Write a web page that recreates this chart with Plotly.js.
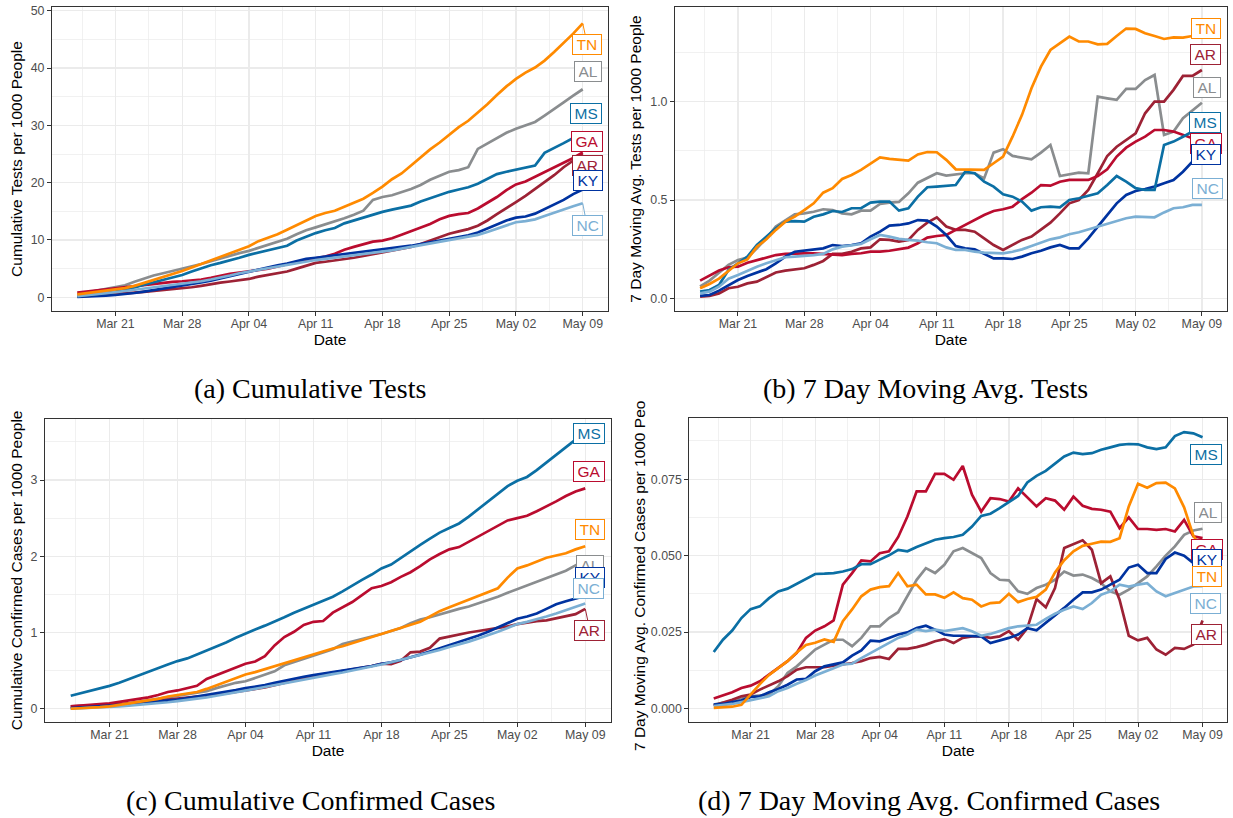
<!DOCTYPE html>
<html><head><meta charset="utf-8">
<script src="https://cdn.plot.ly/plotly-3.0.1.min.js"></script>
<style>html,body{margin:0;padding:0;background:#fff}#chart{width:1233px;height:818px}</style>
</head><body><div id="chart"></div>
<script>
// ---------- categories ----------
const DATES = [
'2020-03-17','2020-03-18','2020-03-19','2020-03-20','2020-03-21','2020-03-22','2020-03-23','2020-03-24','2020-03-25','2020-03-26','2020-03-27','2020-03-28','2020-03-29','2020-03-30','2020-03-31',
'2020-04-01','2020-04-02','2020-04-03','2020-04-04','2020-04-05','2020-04-06','2020-04-07','2020-04-08','2020-04-09','2020-04-10',
'2020-04-11','2020-04-12','2020-04-13','2020-04-14','2020-04-15','2020-04-16','2020-04-17','2020-04-18','2020-04-19','2020-04-20',
'2020-04-21','2020-04-22','2020-04-23','2020-04-24','2020-04-25','2020-04-26','2020-04-27','2020-04-28','2020-04-29','2020-04-30',
'2020-05-01','2020-05-02','2020-05-03','2020-05-04','2020-05-05','2020-05-06','2020-05-07','2020-05-08','2020-05-09'];
const STATES = ['AL','AR','GA','KY','MS','NC','TN'];

// ---------- (a) cumulative tests per 1000 ----------
const TESTS_CUM_AL = [0.5,0.8,1.1,1.4,1.7,2.1,2.7,3.3,3.8,4.2,4.6,4.9,5.3,5.8,6.3, 6.8,7.3,7.7,8.1,8.6,9.1,9.6,10.2,11.0,11.7, 12.2,12.7,13.2,13.8,14.4,15.1,17.0,17.5,17.8,18.3, 18.9,19.6,20.5,21.2,21.9,22.2,22.7,25.9,26.8,27.7, 28.7,29.4,30.0,30.6,31.7,32.8,34.0,35.2,36.3];
const TESTS_CUM_AR = [0.1,0.2,0.3,0.45,0.6,0.7,0.8,0.95,1.1,1.25,1.4,1.55,1.75,2.0,2.3, 2.55,2.75,3.0,3.2,3.6,3.9,4.2,4.5,5.0,5.5, 6.0,6.2,6.4,6.7,6.9,7.2,7.5,7.8,8.1,8.4, 8.8,9.3,9.9,10.5,11.1,11.5,11.9,12.5,13.4,14.5, 15.5,16.6,17.7,18.9,20.0,21.3,22.7,23.9,25.0];
const TESTS_CUM_GA = [0.8,1.0,1.2,1.35,1.5,1.7,1.9,2.1,2.3,2.5,2.7,2.8,2.9,3.1,3.4, 3.8,4.1,4.3,4.5,4.7,5.0,5.4,5.8,6.2,6.5, 6.8,7.1,7.6,8.3,8.8,9.3,9.7,9.9,10.3,10.9, 11.5,12.2,12.8,13.6,14.2,14.5,14.7,15.5,16.5,17.5, 18.7,19.7,20.2,21.0,21.8,22.6,23.4,24.3,25.3];
const TESTS_CUM_KY = [0.05,0.1,0.2,0.3,0.4,0.55,0.75,1.0,1.25,1.5,1.75,2.0,2.3,2.6,2.9, 3.3,3.7,4.1,4.5,4.9,5.3,5.6,5.9,6.3,6.7, 6.9,7.1,7.3,7.5,7.7,7.9,8.1,8.4,8.6,8.7, 9.0,9.3,9.6,9.9,10.2,10.4,10.8,11.3,12.0,12.7, 13.4,13.9,14.1,14.6,15.4,16.2,17.0,18.0,18.8];
const TESTS_CUM_MS = [0.2,0.35,0.55,0.75,1.0,1.3,1.7,2.2,2.6,3.0,3.4,3.9,4.5,5.1,5.6, 6.0,6.4,6.9,7.4,7.8,8.2,8.5,9.0,9.9,10.6, 11.2,11.7,12.1,12.9,13.4,13.9,14.5,14.9,15.3,15.6, 16.0,16.7,17.3,17.9,18.4,18.8,19.2,19.8,20.6,21.5, 21.9,22.3,22.7,23.0,25.2,26.0,26.9,27.8,28.4];
const TESTS_CUM_NC = [0.2,0.35,0.5,0.7,0.9,1.1,1.3,1.5,1.7,1.9,2.1,2.3,2.5,2.8,3.1, 3.4,3.8,4.2,4.5,4.8,5.0,5.3,5.6,5.9,6.2, 6.5,6.7,6.9,7.1,7.3,7.5,7.7,7.9,8.2,8.5, 8.8,9.1,9.4,9.7,10.0,10.2,10.5,10.9,11.4,12.0, 12.6,13.1,13.3,13.6,14.2,14.8,15.4,15.9,16.4];
const TESTS_CUM_TN = [0.5,0.7,0.9,1.1,1.35,1.6,2.0,2.5,3.0,3.5,4.0,4.6,5.2,5.8,6.4, 7.0,7.6,8.2,8.9,9.8,10.4,11.0,11.8,12.6,13.4, 14.2,14.7,15.1,15.8,16.5,17.2,18.2,19.3,20.6,21.6, 23.0,24.4,25.8,27.0,28.4,29.7,30.8,32.2,33.7,35.3, 36.8,38.1,39.2,40.1,41.3,42.8,44.4,46.0,47.8];

// ---------- (b) 7 day moving avg. tests per 1000 ----------
const TESTS_MA_AL = [0.06,0.09,0.13,0.17,0.195,0.207,0.254,0.305,0.365,0.398,0.427,0.432,0.44,0.453,0.449, 0.432,0.427,0.446,0.446,0.48,0.487,0.49,0.534,0.588,0.61, 0.636,0.624,0.631,0.636,0.636,0.61,0.741,0.758,0.724,0.717, 0.707,0.741,0.78,0.622,0.631,0.639,0.636,1.026,1.017,1.009, 1.065,1.065,1.11,1.136,0.831,0.848,0.916,0.958,0.995];
const TESTS_MA_AR = [0.008,0.012,0.025,0.051,0.059,0.076,0.085,0.11,0.131,0.141,0.148,0.153,0.17,0.19,0.226, 0.226,0.237,0.254,0.259,0.30,0.297,0.288,0.297,0.348,0.385, 0.412,0.365,0.348,0.348,0.339,0.305,0.271,0.246,0.271,0.297, 0.314,0.348,0.385,0.432,0.483,0.50,0.551,0.636,0.724,0.771, 0.805,0.839,0.941,1.0,1.0,1.06,1.131,1.131,1.161];
const TESTS_MA_GA = [0.09,0.114,0.141,0.158,0.161,0.181,0.195,0.209,0.22,0.226,0.229,0.229,0.229,0.226,0.22, 0.22,0.226,0.229,0.237,0.237,0.242,0.249,0.258,0.28,0.309, 0.317,0.322,0.348,0.373,0.398,0.424,0.444,0.453,0.466,0.504, 0.537,0.576,0.573,0.593,0.602,0.602,0.602,0.622,0.656,0.721, 0.766,0.797,0.822,0.856,0.856,0.848,0.831,0.814,0.805];
const TESTS_MA_KY = [0.012,0.017,0.039,0.068,0.093,0.114,0.131,0.148,0.178,0.212,0.237,0.242,0.246,0.254,0.271, 0.266,0.271,0.28,0.314,0.339,0.37,0.373,0.381,0.398,0.395, 0.365,0.322,0.266,0.254,0.249,0.226,0.203,0.203,0.20,0.212, 0.229,0.242,0.259,0.271,0.254,0.254,0.305,0.365,0.424,0.483, 0.526,0.546,0.556,0.568,0.585,0.602,0.644,0.695,0.721];
const TESTS_MA_MS = [0.034,0.042,0.068,0.144,0.178,0.212,0.271,0.314,0.356,0.39,0.393,0.39,0.415,0.427,0.444, 0.439,0.458,0.458,0.487,0.492,0.492,0.446,0.458,0.517,0.565, 0.568,0.573,0.576,0.644,0.636,0.593,0.568,0.529,0.517,0.492, 0.446,0.463,0.466,0.463,0.50,0.509,0.52,0.534,0.576,0.622, 0.593,0.56,0.551,0.551,0.78,0.797,0.822,0.848,0.865];
const TESTS_MA_NC = [0.025,0.034,0.059,0.10,0.119,0.141,0.161,0.178,0.195,0.209,0.212,0.215,0.22,0.226,0.249, 0.263,0.271,0.276,0.30,0.322,0.314,0.302,0.297,0.293,0.285, 0.28,0.259,0.246,0.246,0.237,0.232,0.229,0.229,0.237,0.249, 0.266,0.283,0.30,0.31,0.326,0.336,0.351,0.365,0.381,0.395, 0.407,0.415,0.412,0.412,0.437,0.458,0.463,0.475,0.475];
const TESTS_MA_TN = [0.051,0.073,0.10,0.14,0.178,0.198,0.263,0.30,0.348,0.39,0.415,0.449,0.483,0.537,0.56, 0.607,0.627,0.653,0.687,0.717,0.709,0.704,0.70,0.732,0.744, 0.743,0.704,0.656,0.656,0.653,0.653,0.687,0.721,0.822,0.933, 1.068,1.178,1.263,1.297,1.331,1.306,1.306,1.292,1.294,1.334, 1.372,1.37,1.348,1.334,1.319,1.327,1.326,1.334,1.339];

// ---------- (c) cumulative confirmed cases per 1000 ----------
const CASES_CUM_AL = [0.01,0.015,0.02,0.03,0.04,0.05,0.07,0.09,0.11,0.13,0.15,0.17,0.19,0.21,0.23, 0.27,0.31,0.34,0.36,0.40,0.44,0.49,0.57,0.61,0.65, 0.69,0.74,0.78,0.85,0.88,0.91,0.94,0.98,1.02,1.06, 1.12,1.17,1.20,1.24,1.28,1.31,1.34,1.38,1.42,1.47, 1.52,1.57,1.61,1.66,1.71,1.76,1.81,1.88,1.95];
const CASES_CUM_AR = [0.03,0.035,0.04,0.045,0.05,0.06,0.07,0.08,0.09,0.10,0.12,0.135,0.15,0.16,0.17, 0.18,0.20,0.22,0.24,0.26,0.28,0.31,0.34,0.37,0.40, 0.43,0.45,0.47,0.49,0.51,0.53,0.56,0.59,0.585,0.63, 0.74,0.75,0.80,0.92,0.95,0.97,1.00,1.02,1.04,1.06, 1.08,1.11,1.13,1.15,1.16,1.19,1.21,1.24,1.31];
const CASES_CUM_GA = [0.03,0.04,0.05,0.06,0.07,0.09,0.11,0.13,0.15,0.18,0.22,0.24,0.27,0.30,0.39, 0.44,0.50,0.55,0.59,0.62,0.69,0.83,0.94,1.01,1.10, 1.14,1.15,1.26,1.33,1.40,1.49,1.58,1.61,1.66,1.73, 1.79,1.87,1.96,2.03,2.09,2.12,2.19,2.25,2.33,2.39, 2.47,2.50,2.53,2.59,2.65,2.72,2.79,2.85,2.89];
const CASES_CUM_KY = [0.01,0.015,0.02,0.03,0.04,0.05,0.06,0.07,0.08,0.09,0.105,0.12,0.14,0.16,0.18, 0.20,0.22,0.245,0.27,0.29,0.31,0.34,0.37,0.40,0.42, 0.44,0.46,0.48,0.50,0.52,0.54,0.56,0.59,0.61,0.64, 0.67,0.71,0.75,0.79,0.84,0.88,0.92,0.96,1.01,1.07, 1.12,1.18,1.21,1.25,1.31,1.37,1.41,1.45,1.48];
const CASES_CUM_MS = [0.17,0.20,0.24,0.27,0.30,0.34,0.39,0.44,0.49,0.53,0.58,0.625,0.66,0.71,0.76, 0.82,0.87,0.93,0.99,1.04,1.09,1.14,1.20,1.26,1.31, 1.37,1.41,1.47,1.54,1.62,1.69,1.76,1.84,1.89,1.98, 2.07,2.15,2.23,2.31,2.37,2.43,2.52,2.62,2.72,2.81, 2.92,2.99,3.04,3.13,3.23,3.34,3.44,3.53,3.62];
const CASES_CUM_NC = [0.00,0.005,0.01,0.015,0.02,0.03,0.04,0.05,0.06,0.07,0.085,0.10,0.115,0.13,0.15, 0.17,0.19,0.215,0.24,0.26,0.285,0.31,0.335,0.36,0.385, 0.41,0.43,0.455,0.475,0.50,0.52,0.55,0.58,0.61,0.64, 0.67,0.70,0.73,0.77,0.81,0.84,0.88,0.92,0.96,1.01, 1.06,1.11,1.14,1.17,1.21,1.25,1.29,1.34,1.38];
const CASES_CUM_TN = [0.00,0.005,0.01,0.02,0.03,0.05,0.07,0.09,0.11,0.13,0.16,0.18,0.20,0.22,0.26, 0.31,0.36,0.41,0.45,0.48,0.52,0.56,0.60,0.64,0.68, 0.72,0.76,0.79,0.82,0.86,0.90,0.94,0.98,1.01,1.05, 1.09,1.14,1.21,1.28,1.33,1.38,1.42,1.47,1.52,1.58, 1.72,1.84,1.88,1.93,1.98,2.01,2.04,2.09,2.13];

// ---------- (d) 7 day moving avg. confirmed cases per 1000 ----------
const CASES_MA_AL = [0.0013,0.0019,0.0024,0.0032,0.004,0.0042,0.0046,0.0073,0.0116,0.0138,0.0165,0.0193,0.0209,0.0225,0.0225, 0.0204,0.0231,0.0269,0.0269,0.0296,0.0315,0.0367,0.0421,0.0459,0.0443, 0.047,0.0514,0.0525,0.0508,0.0492,0.0443,0.0421,0.0419,0.0383,0.0375, 0.0394,0.0405,0.0421,0.0448,0.0435,0.0438,0.0427,0.041,0.0383,0.0372, 0.0389,0.041,0.0432,0.0465,0.05,0.053,0.0568,0.0582,0.0588];
const CASES_MA_AR = [0.001,0.0019,0.0029,0.004,0.0046,0.0062,0.0075,0.0089,0.0106,0.0127,0.0135,0.0135,0.0135,0.014,0.0144, 0.0149,0.0155,0.0165,0.0169,0.0162,0.0195,0.0195,0.0201,0.0209,0.022, 0.0227,0.0214,0.0231,0.0236,0.0236,0.0231,0.0236,0.0253,0.0225,0.0263, 0.0358,0.0331,0.0394,0.0525,0.0538,0.055,0.0519,0.041,0.0432,0.0356, 0.0238,0.0223,0.0231,0.0193,0.0176,0.0198,0.0195,0.0209,0.0288];
const CASES_MA_GA = [0.0033,0.0042,0.0053,0.0067,0.0075,0.0089,0.0111,0.0133,0.0155,0.0182,0.0231,0.0255,0.0269,0.0288,0.0405, 0.0443,0.0484,0.0481,0.0508,0.0514,0.0561,0.0628,0.071,0.071,0.0767, 0.0767,0.0748,0.0793,0.0699,0.0644,0.0688,0.0685,0.0677,0.072,0.0691, 0.0661,0.0688,0.068,0.065,0.0693,0.0663,0.0653,0.065,0.0644,0.059, 0.0625,0.0587,0.0587,0.0584,0.0587,0.0579,0.0617,0.0563,0.0557];
const CASES_MA_KY = [0.0013,0.0015,0.0021,0.0026,0.0038,0.004,0.0053,0.0064,0.0078,0.0095,0.0097,0.0122,0.0138,0.0144,0.0151, 0.0173,0.019,0.0222,0.022,0.0231,0.0242,0.0249,0.0263,0.0271,0.0258, 0.0242,0.0238,0.0238,0.0238,0.0236,0.0214,0.0222,0.0231,0.0242,0.0263, 0.0256,0.028,0.0304,0.0329,0.0356,0.038,0.038,0.0389,0.0405,0.0421, 0.0461,0.047,0.0443,0.0443,0.0489,0.051,0.05,0.0476,0.0465];
const CASES_MA_MS = [0.0185,0.0225,0.0255,0.0296,0.0325,0.0334,0.0361,0.0383,0.0392,0.0408,0.0423,0.044,0.0441,0.0443,0.0448, 0.0456,0.0472,0.0472,0.0487,0.0501,0.0519,0.0514,0.0528,0.0541,0.0552, 0.0557,0.0561,0.0568,0.0595,0.063,0.0637,0.0655,0.0674,0.0695,0.0739, 0.0761,0.0777,0.0799,0.0824,0.0837,0.0832,0.0835,0.0846,0.0854,0.0862, 0.0865,0.0864,0.0854,0.0848,0.0854,0.0891,0.0904,0.09,0.0887];
const CASES_MA_NC = [0.0008,0.0011,0.0015,0.0021,0.0027,0.0035,0.004,0.0057,0.0067,0.0081,0.0093,0.0108,0.0119,0.0132,0.0144, 0.0147,0.0165,0.0182,0.0198,0.0214,0.0231,0.0242,0.0258,0.0253,0.0258, 0.0253,0.0258,0.0263,0.0253,0.0238,0.0244,0.0253,0.0263,0.0269,0.0271, 0.0274,0.0293,0.031,0.0323,0.0334,0.0325,0.0345,0.0372,0.0383,0.0405, 0.0399,0.0405,0.041,0.0383,0.0367,0.0378,0.0389,0.0399,0.04];
const CASES_MA_TN = [0.0002,0.0003,0.0006,0.0012,0.0047,0.008,0.011,0.0134,0.0155,0.0183,0.0208,0.0215,0.0226,0.0218,0.0286, 0.0324,0.0367,0.0389,0.0397,0.040,0.0443,0.040,0.0405,0.0373,0.0373, 0.0362,0.038,0.0361,0.0356,0.0334,0.0345,0.0347,0.0375,0.0348,0.0358, 0.0365,0.0389,0.0445,0.0485,0.0514,0.0532,0.0539,0.0546,0.0545,0.0557, 0.0661,0.0735,0.0722,0.0737,0.0739,0.072,0.0658,0.0565,0.052];

// ---------- text ----------
const Y_TITLES = {
  a: 'Cumulative Tests per 1000 People',
  b: '7 Day Moving Avg. Tests per 1000 People',
  c: 'Cumulative Confirmed Cases per 1000 People',
  d: '7 Day Moving Avg. Confirmed Cases per 1000 Peo'
};
const CAPTIONS = {
  a: '(a) Cumulative Tests',
  b: '(b) 7 Day Moving Avg. Tests',
  c: '(c) Cumulative Confirmed Cases',
  d: '(d) 7 Day Moving Avg. Confirmed Cases'
};
const X_TITLE = 'Date';

// ---------- styles / layout config ----------
const COLORS = {AL:'#8A8D8F', AR:'#9D2235', GA:'#BA0C2F', KY:'#0033A0', MS:'#0B6FA4', NC:'#7BAFD4', TN:'#FF8A00'};
const SANS = 'Liberation Sans, Arial, Helvetica, sans-serif';
const SERIF = 'Liberation Serif, Times New Roman, serif';
const W = 1233, H = 818;
const px = v => v / W, py = v => 1 - v / H;

const PANELS = {
  a: {xa:'x',  ya:'y',  data:{AL:TESTS_CUM_AL,AR:TESTS_CUM_AR,GA:TESTS_CUM_GA,KY:TESTS_CUM_KY,MS:TESTS_CUM_MS,NC:TESTS_CUM_NC,TN:TESTS_CUM_TN},
      dom:{x:[52,608], y:[7.3,310.7]}, yr:[-2.34,50.6], dtick:10, minor:5, fmt:'d',
      labels:[['TN',4.6,21.3,1],['AL',5.3,-17.6],['MS',3.3,-20.9],['GA',3.8,-10.6],['AR',4.3,11.9],['KY',4.8,-9.1],['NC',4.3,22.2,1]]},
  b: {xa:'x2', ya:'y2', data:{AL:TESTS_MA_AL,AR:TESTS_MA_AR,GA:TESTS_MA_GA,KY:TESTS_MA_KY,MS:TESTS_MA_MS,NC:TESTS_MA_NC,TN:TESTS_MA_TN},
      dom:{x:[675,1227], y:[7.3,310.7]}, yr:[-0.063,1.48], dtick:0.5, minor:0.25, fmt:'.1f',
      labels:[['TN',4.3,-6.9],['AR',3.8,-15.8],['AL',5.3,-15.4],['MS',3.3,-6.2],['GA',3.8,3.3],['KY',4.3,-2.3],['NC',6,-16.7]]},
  c: {xa:'x3', ya:'y3', data:{AL:CASES_CUM_AL,AR:CASES_CUM_AR,GA:CASES_CUM_GA,KY:CASES_CUM_KY,MS:CASES_CUM_MS,NC:CASES_CUM_NC,TN:CASES_CUM_TN},
      dom:{x:[45,611], y:[419,721.7]}, yr:[-0.17,3.80], dtick:1, minor:0.5, fmt:'d',
      labels:[['MS',3.7,1.1],['GA',4.2,-17],['TN',5.2,-16.9],['AL',5.2,5.4],['KY',5,-17.9],['NC',3.7,-15.2],['AR',4.7,21.9,1]]},
  d: {xa:'x4', ya:'y4', data:{AL:CASES_MA_AL,AR:CASES_MA_AR,GA:CASES_MA_GA,KY:CASES_MA_KY,MS:CASES_MA_MS,NC:CASES_MA_NC,TN:CASES_MA_TN},
      dom:{x:[689.3,1227], y:[418.3,721.7]}, yr:[-0.0043,0.0949], dtick:0.025, minor:0.0125, fmt:'.3f',
      labels:[['MS',3.2,17],['AL',5.4,-16.3],['GA',4,11.7],['KY',4.4,-6.5],['TN',4.4,27],['NC',3.4,17.3],['AR',3.9,14.2]]}
};

const WEEK = 7 * 864e5;
const traces = [];
const annotations = [];
const layout = {
  width: W, height: H, margin:{l:0,r:0,t:0,b:0},
  paper_bgcolor:'#fff', plot_bgcolor:'#fff', showlegend:false, hovermode:false
};

Object.keys(PANELS).forEach(k => {
  const P = PANELS[k];
  STATES.forEach(s => {
    traces.push({type:'scatter', mode:'lines', x:DATES, y:P.data[s], xaxis:P.xa, yaxis:P.ya, name:s,
      line:{color:COLORS[s], width:2.7}});
  });
  const xn = 'xaxis' + P.xa.slice(1), yn = 'yaxis' + P.ya.slice(1);
  layout[xn] = {
    domain:[px(P.dom.x[0]), px(P.dom.x[1])], anchor:P.ya, type:'date',
    range:['2020-03-14 08:24','2020-05-11 15:36'],
    tick0:'2020-03-21', dtick:WEEK, tickformat:'%b %d',
    ticks:'outside', ticklen:4, tickwidth:1, tickcolor:'#333333', ticklabelstandoff:-3,
    showline:true, mirror:true, linecolor:'#333333', linewidth:1,
    showgrid:true, gridcolor:'#EBEBEB', gridwidth:1.3, zeroline:false,
    minor:{tick0:'2020-03-17 12:00', dtick:WEEK, showgrid:true, gridcolor:'#EBEBEB', gridwidth:0.7, ticks:''},
    tickfont:{family:SANS, size:12.4, color:'#4D4D4D'},
    title:{text:X_TITLE, font:{family:SANS, size:15.5, color:'#000'}, standoff:2},
    automargin:false
  };
  layout[yn] = {
    domain:[py(P.dom.y[1]), py(P.dom.y[0])], anchor:P.xa,
    range:P.yr, tick0:0, dtick:P.dtick, tickformat:P.fmt,
    ticks:'outside', ticklen:4, tickwidth:1, tickcolor:'#333333',
    showline:true, mirror:true, linecolor:'#333333', linewidth:1,
    showgrid:true, gridcolor:'#EBEBEB', gridwidth:1.3, zeroline:false,
    minor:{tick0:0, dtick:P.minor, showgrid:true, gridcolor:'#EBEBEB', gridwidth:0.7, ticks:''},
    tickfont:{family:SANS, size:12.4, color:'#4D4D4D'},
    automargin:false
  };
  if (k !== 'd') {
    layout[yn].title = {text:Y_TITLES[k], font:{family:SANS, size:15.5, color:'#000'}, standoff:4};
  } else {
    annotations.push({xref:'paper', yref:'paper', x:px(639), y:py(753), xanchor:'center', yanchor:'bottom',
      textangle:-90, showarrow:false, text:Y_TITLES[k], font:{family:SANS, size:15.5, color:'#000'}});
  }
  // repel-style labels at series ends
  const last = DATES.length - 1;
  P.labels.forEach(([s, dx, dy, arrow]) => {
    const a = {xref:P.xa, yref:P.ya, x:DATES[last], y:P.data[s][last], text:s,
      font:{family:SANS, size:15.5, color:COLORS[s]}, bgcolor:'#ffffff', bordercolor:COLORS[s],
      borderwidth:1, borderpad:3.5, height:12, xanchor:'center', yanchor:'middle', align:'center', valign:'middle'};
    if (arrow) {
      Object.assign(a, {showarrow:true, ax:dx, ay:dy, arrowhead:0, arrowwidth:1, arrowcolor:COLORS[s], standoff:0, startstandoff:0});
    } else {
      Object.assign(a, {showarrow:false, xshift:dx, yshift:-dy});
    }
    annotations.push(a);
  });
});

// sub-figure captions
[['a',310,388],['b',925,388],['c',310,800],['d',929,800]].forEach(([k,x,y]) => {
  annotations.push({xref:'paper', yref:'paper', x:px(x), y:py(y), xanchor:'center', yanchor:'middle',
    showarrow:false, text:CAPTIONS[k], font:{family:SERIF, size:28, color:'#000'}});
});
layout.annotations = annotations;

Plotly.newPlot('chart', traces, layout, {staticPlot:true, displayModeBar:false});
</script>
</body></html>
